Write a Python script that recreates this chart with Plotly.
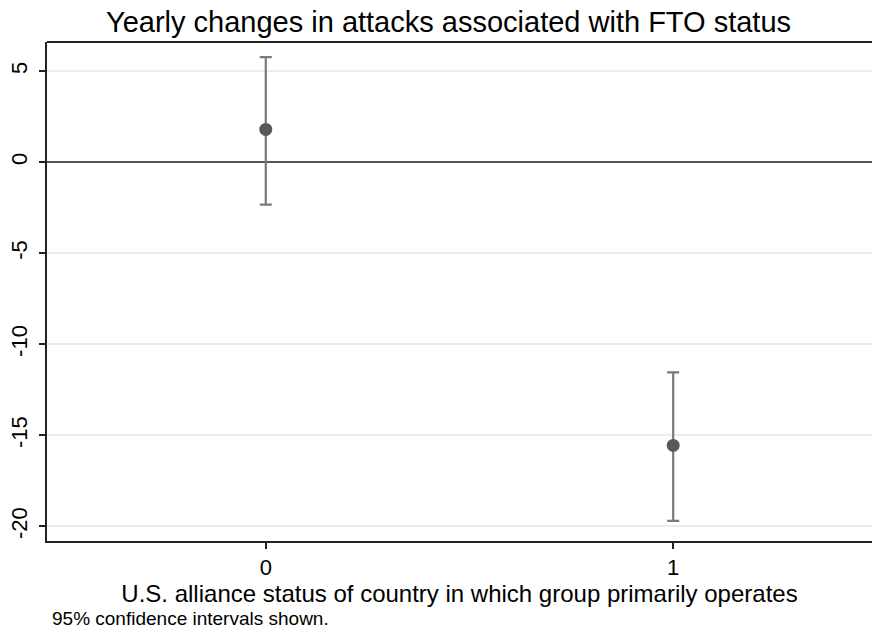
import plotly.graph_objects as go

# Data
categories = [0, 1]
estimates = [1.80, -15.55]
ci_upper = [5.77, -11.54]
ci_lower = [-2.33, -19.69]
y_ticks = [-20, -15, -10, -5, 0, 5]
y_tick_labels = ["-20", "-15", "-10", "-5", "0", "5"]
x_ticks = [0, 1]
x_tick_labels = ["0", "1"]

err_plus = [u - e for u, e in zip(ci_upper, estimates)]
err_minus = [e - l for e, l in zip(estimates, ci_lower)]

FONT = "Liberation Sans, Arial, Helvetica, sans-serif"
W, H = 864, 619  # page body has an 8px margin; keep the figure inside the viewport
L, T, B = 38.7, 33.7, 86.3
PH = H - T - B

fig = go.Figure()
fig.add_trace(go.Scatter(
    x=categories, y=estimates, mode="markers",
    marker=dict(color="#595959", size=13),
    error_y=dict(type="data", symmetric=False, array=err_plus, arrayminus=err_minus,
                 color="#7a7a7a", thickness=2.2, width=6),
    showlegend=False,
))

# top frame line
fig.add_shape(type="line", xref="paper", x0=0, x1=1.02, yref="paper", y0=1, y1=1,
              line=dict(color="#222222", width=2), layer="above")

fig.update_layout(
    width=W, height=H,
    margin=dict(l=L, r=0, t=T, b=B, autoexpand=False),
    paper_bgcolor="white", plot_bgcolor="white",
    font=dict(family=FONT, color="black"),
    title=dict(text="Yearly changes in attacks associated with FTO status",
               xref="container", x=(448.5 - 8) / W, xanchor="center",
               yref="container", y=1 - 14 / H, yanchor="middle",
               font=dict(size=29, family=FONT, color="black")),
    xaxis=dict(range=[-0.537, 1.488], tickvals=x_ticks, ticktext=x_tick_labels,
               automargin=False,
               showgrid=False, zeroline=False, showline=True, linecolor="#222222",
               linewidth=2, mirror=False, ticks="outside", ticklen=6, tickcolor="#222222",
               tickwidth=1.5, tickfont=dict(size=22),
               title=dict(text="U.S. alliance status of country in which group primarily operates",
                          font=dict(size=24), standoff=4)),
    yaxis=dict(range=[-20.8, 6.6], tickvals=y_ticks, ticktext=y_tick_labels,
               automargin=False,
               showgrid=True, gridcolor="#ececec", gridwidth=1.5,
               zeroline=True, zerolinecolor="#555555", zerolinewidth=2,
               showline=True, linecolor="#222222", linewidth=2, mirror=False,
               ticks="outside", ticklen=6, tickcolor="#222222", tickwidth=1.5,
               tickangle=-90, tickfont=dict(size=22), ticklabelstandoff=3),
    annotations=[dict(text="95% confidence intervals shown.", xref="paper", yref="paper",
                      x=0.004, y=(H - B - 610) / PH, xanchor="left", yanchor="middle",
                      showarrow=False,
                      font=dict(size=19, family=FONT, color="black"))],
)

fig.write_html("out.html")
